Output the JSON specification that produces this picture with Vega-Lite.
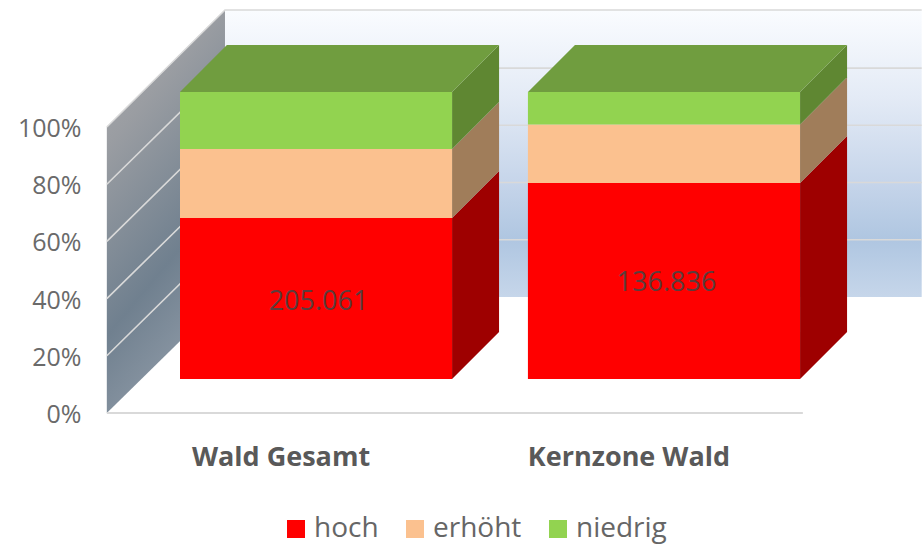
{
"$schema":"https://vega.github.io/schema/vega-lite/v6.json",
"width":924,"height":544,"padding":0,"autosize":{"type":"none"},
"background":"white",
"config":{"view":{"stroke":null},"font":"Open Sans"},
"datasets":{
"leftWall":[{"x":0.399,"lo":0,"hi":100},{"x":0.7385,"lo":40.6,"hi":140.9}],
"backWall":[{"x":0.7385,"lo":40.6,"hi":140.9},{"x":2.7405,"lo":40.6,"hi":140.9}],
"grid":[
{"k":20,"x":0.399,"y":20},{"k":20,"x":0.7385,"y":60.6},{"k":20,"x":2.7405,"y":60.6},
{"k":40,"x":0.399,"y":40},{"k":40,"x":0.7385,"y":80.6},{"k":40,"x":2.7405,"y":80.6},
{"k":60,"x":0.399,"y":60},{"k":60,"x":0.7385,"y":100.6},{"k":60,"x":2.7405,"y":100.6},
{"k":80,"x":0.399,"y":80},{"k":80,"x":0.7385,"y":120.6},{"k":80,"x":2.7405,"y":120.6},
{"k":100,"x":0.399,"y":100},{"k":100,"x":0.7385,"y":140.9},{"k":100,"x":2.7405,"y":140.9}],
"floor":[{"x":0.399,"x2":2.399,"y":0}],
"side":[
{"cat":"Wald Gesamt","series":"hoch","x":1.391,"lo":0,"hi":56.1},
{"cat":"Wald Gesamt","series":"hoch","x":1.526,"lo":16.4,"hi":72.5},
{"cat":"Wald Gesamt","series":"erhöht","x":1.391,"lo":56.1,"hi":80.1},
{"cat":"Wald Gesamt","series":"erhöht","x":1.526,"lo":72.5,"hi":96.5},
{"cat":"Wald Gesamt","series":"niedrig","x":1.391,"lo":80.1,"hi":100},
{"cat":"Wald Gesamt","series":"niedrig","x":1.526,"lo":96.5,"hi":116.4},
{"cat":"Kernzone Wald","series":"hoch","x":2.391,"lo":0,"hi":68.3},
{"cat":"Kernzone Wald","series":"hoch","x":2.526,"lo":16.4,"hi":84.7},
{"cat":"Kernzone Wald","series":"erhöht","x":2.391,"lo":68.3,"hi":88.7},
{"cat":"Kernzone Wald","series":"erhöht","x":2.526,"lo":84.7,"hi":105.1},
{"cat":"Kernzone Wald","series":"niedrig","x":2.391,"lo":88.7,"hi":100},
{"cat":"Kernzone Wald","series":"niedrig","x":2.526,"lo":105.1,"hi":116.4}],
"top":[
{"cat":"Wald Gesamt","y":100,"xa":0.609,"xb":1.391},
{"cat":"Wald Gesamt","y":116.4,"xa":0.744,"xb":1.526},
{"cat":"Kernzone Wald","y":100,"xa":1.609,"xb":2.391},
{"cat":"Kernzone Wald","y":116.4,"xa":1.744,"xb":2.526}],
"bars":[
{"cat":"Wald Gesamt","series":"hoch","start":0,"end":56.1},
{"cat":"Wald Gesamt","series":"erhöht","start":56.1,"end":80.1},
{"cat":"Wald Gesamt","series":"niedrig","start":80.1,"end":100},
{"cat":"Kernzone Wald","series":"hoch","start":0,"end":68.3},
{"cat":"Kernzone Wald","series":"erhöht","start":68.3,"end":88.7},
{"cat":"Kernzone Wald","series":"niedrig","start":88.7,"end":100}],
"labels":[
{"cat":"Wald Gesamt","mid":26.8,"label":"205.061"},
{"cat":"Kernzone Wald","mid":33.4,"label":"136.836"}]
},
"layer":[
{"layer":[
{"data":{"name":"leftWall"},
 "mark":{"type":"area","color":{"gradient":"linear","x1":0,"y1":0,"x2":0.35,"y2":1,"stops":[{"offset":0,"color":"#ABACAE"},{"offset":0.3,"color":"#9A9DA2"},{"offset":0.72,"color":"#70808F"},{"offset":1,"color":"#8C98A5"}]}},
 "encoding":{"x":{"field":"x","type":"quantitative","scale":{"domain":[0.092,2.7471],"nice":false,"zero":false},"axis":null},
  "y":{"field":"hi","type":"quantitative","scale":{"domain":[0,100],"range":[413,127],"nice":false,"zero":false},
   "axis":{"values":[0,20,40,60,80,100],"orient":"left","offset":-84,"domain":false,"ticks":false,"grid":false,"title":null,"labelExpr":"datum.value+'%'","labelFontSize":25,"labelColor":"#6A6A6A","labelPadding":3,"labelOffset":1.5}},
  "y2":{"field":"lo"}}},
{"data":{"name":"backWall"},
 "mark":{"type":"area","color":{"gradient":"linear","x1":0,"y1":0,"x2":0,"y2":1,"stops":[{"offset":0,"color":"#FAFCFF"},{"offset":0.3,"color":"#E4EBF6"},{"offset":0.6,"color":"#C6D5EA"},{"offset":0.8,"color":"#AFC6E1"},{"offset":1,"color":"#C6D6EA"}]}},
 "encoding":{"x":{"field":"x","type":"quantitative"},"y":{"field":"hi","type":"quantitative"},"y2":{"field":"lo"}}},
{"data":{"name":"grid"},
 "mark":{"type":"line","color":"#D9D9D9","strokeWidth":1.6},
 "encoding":{"x":{"field":"x","type":"quantitative"},"y":{"field":"y","type":"quantitative"},"detail":{"field":"k"}}},
{"data":{"name":"floor"},
 "mark":{"type":"rule","color":"#D9D9D9","strokeWidth":2},
 "encoding":{"x":{"field":"x","type":"quantitative"},"x2":{"field":"x2"},"y":{"field":"y","type":"quantitative"}}}
]},
{"layer":[
{"data":{"name":"side"},
 "mark":{"type":"area"},
 "encoding":{"x":{"field":"x","type":"quantitative","scale":{"domain":[0.092,2.7471],"nice":false,"zero":false},"axis":null},
  "y":{"field":"hi","type":"quantitative","scale":{"domain":[0,100],"range":[379,92],"nice":false,"zero":false},"axis":null},
  "y2":{"field":"lo"},
  "detail":{"field":"cat"},
  "color":{"field":"series","type":"nominal","legend":null,"scale":{"domain":["hoch","erhöht","niedrig"],"range":["#9E0000","#A07D5A","#5F8732"]}}}},
{"data":{"name":"top"},
 "mark":{"type":"area","orient":"horizontal","color":"#709D3F"},
 "encoding":{"y":{"field":"y","type":"quantitative"},"x":{"field":"xa","type":"quantitative"},"x2":{"field":"xb"},"detail":{"field":"cat"}}}
]},
{"layer":[
{"data":{"name":"bars"},
 "mark":{"type":"bar"},
 "encoding":{"x":{"field":"cat","type":"nominal","sort":["Wald Gesamt","Kernzone Wald"],
   "scale":{"type":"band","domain":["Wald Gesamt","Kernzone Wald"],"range":[180,800],"paddingInner":0.218,"paddingOuter":0},
   "axis":{"orient":"bottom","offset":-105,"domain":false,"ticks":false,"grid":false,"title":null,"labelAngle":0,"labelFontSize":27,"labelFontWeight":"bold","labelColor":"#595959","labelOffset":-35,"labelPadding":5,"labelLimit":400}},
  "y":{"field":"end","type":"quantitative","scale":{"domain":[0,100],"range":[379,92],"nice":false,"zero":false},"axis":null},
  "y2":{"field":"start"},
  "color":{"field":"series","type":"nominal","title":null,
   "scale":{"domain":["hoch","erhöht","niedrig"],"range":["#FF0000","#FBC18F","#92D350"]},
   "legend":{"orient":"none","legendX":282,"legendY":515,"direction":"horizontal","columns":3,"symbolType":"square","symbolSize":324,"symbolStrokeWidth":0,"labelFontSize":28,"labelColor":"#666666","labelOffset":4,"columnPadding":22,"title":null,"labelLimit":200}}}},
{"data":{"name":"labels"},
 "mark":{"type":"text","fontSize":27,"color":"#5C3C3C","dx":2.5,"baseline":"middle"},
 "encoding":{"x":{"field":"cat","type":"nominal","sort":["Wald Gesamt","Kernzone Wald"]},"y":{"field":"mid","type":"quantitative"},"text":{"field":"label"}}}
]}
],
"resolve":{"scale":{"x":"independent","y":"independent","color":"independent"},"axis":{"x":"independent","y":"independent"}}
}
